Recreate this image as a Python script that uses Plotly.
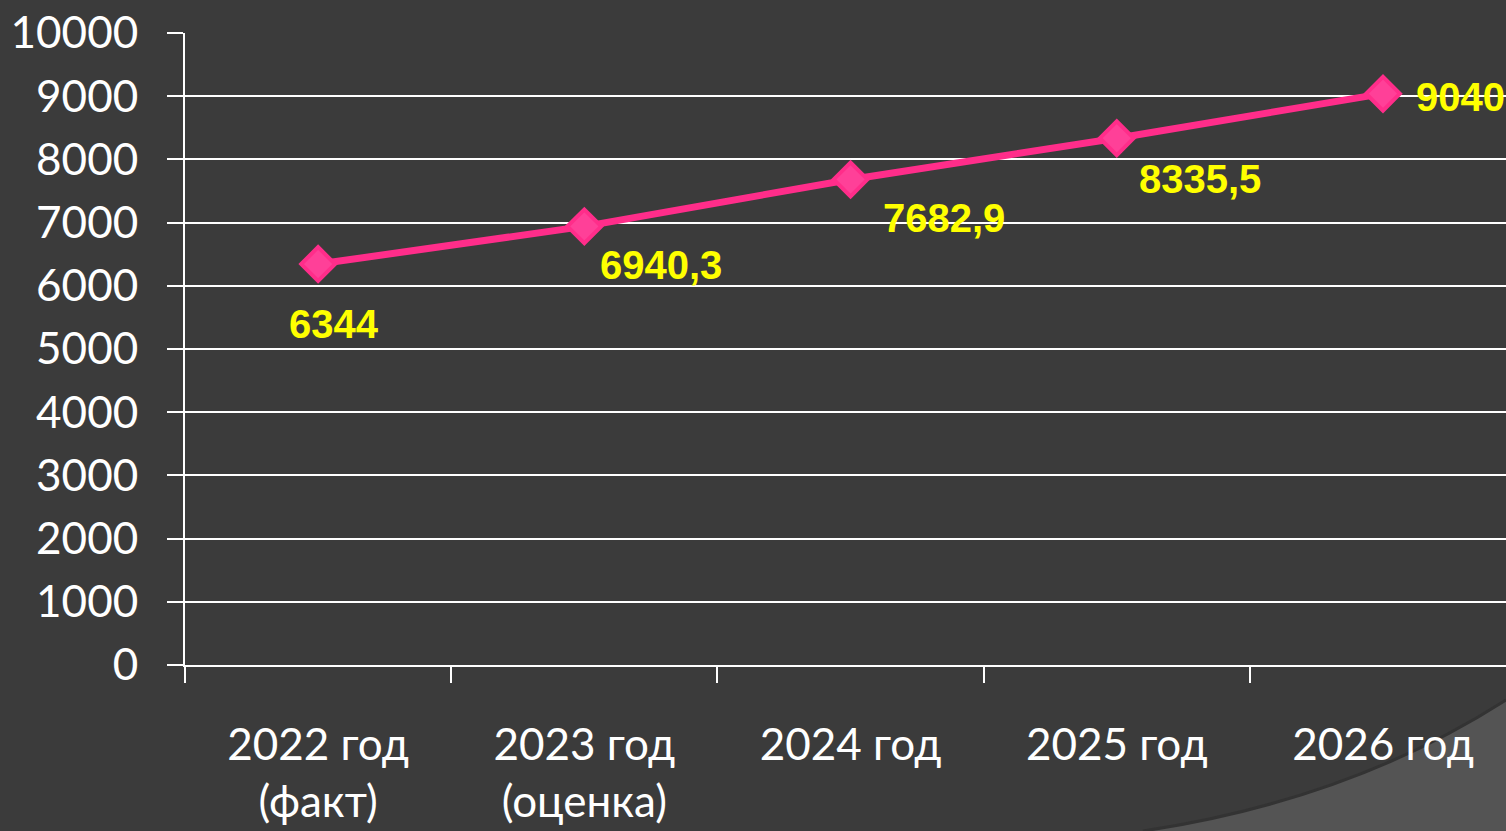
import plotly.graph_objects as go

categories = ["2022 год<br>(факт)", "2023 год<br>(оценка)", "2024 год", "2025 год", "2026 год"]
values = [6344, 6940.3, 7682.9, 8335.5, 9040]
label_xshift = [16, 77, 93, 83, 77]
label_yshift = [-60, -39, -39, -41, -3]

BG = "#3b3b3b"
PINK = "#ff2d8a"

def fmt(v):
    s = ("%.1f" % v).rstrip("0").rstrip(".")
    return s.replace(".", ",")

fig = go.Figure()
fig.add_trace(go.Scatter(
    x=categories, y=values, mode="lines+markers",
    line=dict(color=PINK, width=7),
    marker=dict(symbol="diamond", size=26, color="#ff4098", line=dict(color=PINK, width=4)),
    hoverinfo="skip", showlegend=False,
))

for c, v, dx, dy in zip(categories, values, label_xshift, label_yshift):
    fig.add_annotation(x=c, y=v, text=fmt(v), showarrow=False,
                       xshift=dx, yshift=dy,
                       font=dict(family="Liberation Sans", size=40, color="#ffff00", weight="bold"))

# decorative slide shape bottom-right (paper coords relative to plot area)
def px(xp):
    return (xp - 185) / 1321
def py(yp):
    return (665 - yp) / 632

path = "M {} {} Q {} {} {} {} L {} {} Z".format(
    px(1143), py(831), px(1350), py(800), px(1506), py(700), px(1506), py(831))
fig.add_shape(type="path", path=path, xref="paper", yref="paper",
              fillcolor="#545454", line=dict(width=0), layer="below")
shadow = "M {} {} Q {} {} {} {}".format(
    px(1143), py(831), px(1350), py(800), px(1506), py(700))
fig.add_shape(type="path", path=shadow, xref="paper", yref="paper",
              line=dict(color="#333333", width=3), layer="below")

fig.update_layout(
    width=1506, height=831,
    margin=dict(l=185, r=0, t=33, b=166),
    paper_bgcolor=BG, plot_bgcolor=BG,
    font=dict(family="Lato", color="white", size=44),
    xaxis=dict(
        type="category", range=[-0.5, 4.462],
        showgrid=False, showline=True, linecolor="white", linewidth=2,
        ticks="outside", tickson="boundaries", ticklen=16, tickcolor="white", tickwidth=2,
        ticklabelstandoff=40,
        tickfont=dict(size=44, color="white"),
        zeroline=False,
    ),
    yaxis=dict(
        range=[0, 10000], dtick=1000, tick0=0, tickformat="d",
        showgrid=True, gridcolor="white", gridwidth=2,
        showline=True, linecolor="white", linewidth=2,
        ticks="outside", ticklen=16, tickcolor="white", tickwidth=2,
        ticklabelstandoff=20,
        tickfont=dict(size=44, color="white"),
        zeroline=False,
    ),
)

fig.write_html("out.html", config={"displayModeBar": False},
               post_script="document.body.style.margin='0';document.body.style.background='#3b3b3b';document.body.style.overflow='hidden';")
